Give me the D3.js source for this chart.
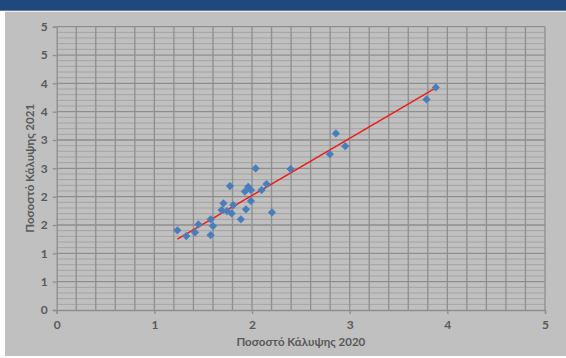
<!DOCTYPE html>
<html><head><meta charset="utf-8">
<script src="https://cdn.jsdelivr.net/npm/d3@7"></script>
<style>html,body{margin:0;padding:0;background:#fff;}svg{display:block;}</style>
</head><body>
<script>
const xValues2020 = [1.236,1.327,1.416,1.451,1.577,1.600,1.576,1.707,1.689,1.743,1.774,1.808,1.791,1.886,1.938,1.927,1.961,1.989,1.989,2.037,2.098,2.149,2.204,2.395,2.797,2.859,2.954,3.787,3.882];
const yValues2021 = [1.407,1.305,1.370,1.511,1.600,1.481,1.323,1.882,1.764,1.746,2.187,1.852,1.705,1.600,1.776,2.090,2.175,2.116,1.922,2.499,2.116,2.222,1.723,2.487,2.751,3.116,2.892,3.716,3.928];
const trendX = [1.236, 3.882];
const trendY = [1.25, 3.92];
const xTickValues = [0,1,2,3,4,5];
const yTickValues = [0,0.5,1,1.5,2,2.5,3,3.5,4,4.5,5];
const xTitle = "Ποσοστό Κάλυψης 2020";
const yTitle = "Ποσοστό Κάλυψης 2021";

const W = 566, H = 358;
const svg = d3.select("body").append("svg").attr("width", W).attr("height", H);
svg.append("rect").attr("width", W).attr("height", H).attr("fill", "#ffffff");
svg.append("rect").attr("x", 0).attr("y", 0).attr("width", W).attr("height", 10.7).attr("fill", "#1f497d");
svg.append("rect").attr("x", 5).attr("y", 11.7).attr("width", W - 5).attr("height", 356 - 11.7).attr("fill", "#c0c0c0");

const x = d3.scaleLinear().domain([0, 5]).range([56.7, 545]);
const y = d3.scaleLinear().domain([0, 5]).range([310, 26.7]);

const g = svg.append("g");
// horizontal minor gridlines (every 0.1)
const hMinor = d3.range(0, 51).map(i => i / 10).filter(v => Math.round(v * 10) % 5 !== 0);
g.selectAll(".hmin").data(hMinor).enter().append("line")
  .attr("x1", x(0)).attr("x2", x(5))
  .attr("y1", d => y(d)).attr("y2", d => y(d))
  .attr("stroke", "#a3a3a3").attr("stroke-width", 1);
// vertical gridlines every 0.2
const vMinor = d3.range(1, 26).map(i => i / 5);
g.selectAll(".vmin").data(vMinor).enter().append("line")
  .attr("y1", y(0)).attr("y2", y(5))
  .attr("x1", d => x(d)).attr("x2", d => x(d))
  .attr("stroke", "#8e8e8e").attr("stroke-width", 1.3);
// horizontal major gridlines
g.selectAll(".hmaj").data(yTickValues.filter(v => v > 0)).enter().append("line")
  .attr("x1", x(0)).attr("x2", x(5))
  .attr("y1", d => y(d)).attr("y2", d => y(d))
  .attr("stroke", "#8e8e8e").attr("stroke-width", 1.3);

// axes (labels rounded to whole numbers, as in the original)
const yAxis = d3.axisLeft(y).tickValues(yTickValues).tickFormat(d => String(Math.round(d))).tickSize(4).tickPadding(5);
const xAxis = d3.axisBottom(x).tickValues(xTickValues).tickFormat(d3.format("d")).tickSize(4).tickPadding(6);
const ya = svg.append("g").attr("transform", `translate(${x(0)},0)`).call(yAxis);
const xa = svg.append("g").attr("transform", `translate(0,${y(0)})`).call(xAxis);
[ya, xa].forEach(a => {
  a.select(".domain").attr("stroke", "#8e8e8e").attr("stroke-width", 1.3);
  a.selectAll(".tick line").attr("stroke", "#8e8e8e").attr("stroke-width", 1.3);
  a.selectAll("text").attr("fill", "#595959").attr("font-family", "Lato, 'Open Sans', sans-serif")
    .attr("font-weight", "bold").attr("font-size", 12);
});

// trend line
const trend = trendX.map((v, i) => ({x: v, y: trendY[i]}));
svg.append("path").datum(trend)
  .attr("d", d3.line().x(d => x(d.x)).y(d => y(d.y)))
  .attr("stroke", "#ee1c1c").attr("stroke-width", 1.4).attr("fill", "none");

// points (diamonds)
const pts = xValues2020.map((v, i) => ({x: v, y: yValues2021[i]}));
const sym = d3.symbol(d3.symbolSquare, 34);
svg.append("g").selectAll("path").data(pts).enter().append("path")
  .attr("d", sym)
  .attr("transform", d => `translate(${x(d.x)},${y(d.y)}) rotate(45)`)
  .attr("fill", "#4a7ebb");

// titles
svg.append("text").attr("x", (x(0) + x(5)) / 2).attr("y", 346)
  .attr("text-anchor", "middle").attr("fill", "#595959")
  .attr("font-family", "Lato, 'Open Sans', sans-serif").attr("font-weight", "bold").attr("font-size", 11.5)
  .text(xTitle);
svg.append("text").attr("transform", `translate(34,${(y(0) + y(5)) / 2}) rotate(-90)`)
  .attr("text-anchor", "middle").attr("fill", "#595959")
  .attr("font-family", "Lato, 'Open Sans', sans-serif").attr("font-weight", "bold").attr("font-size", 11.5)
  .text(yTitle);
</script>
</body></html>
